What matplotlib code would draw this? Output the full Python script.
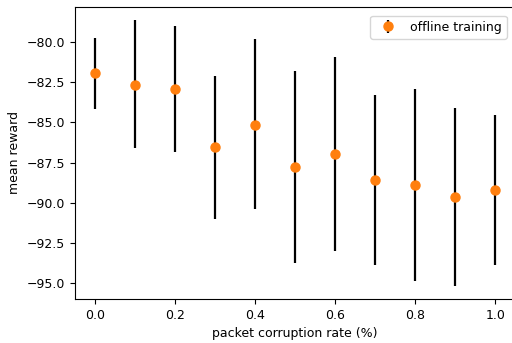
import matplotlib
matplotlib.use("Agg")
import matplotlib.pyplot as plt
import numpy as np

rates = [0.0, 0.1, 0.2, 0.3, 0.4, 0.5, 0.6, 0.7, 0.8, 0.9, 1.0]
mean_reward = [-81.97, -82.66, -82.95, -86.56, -85.15, -87.78, -86.97, -88.57, -88.88, -89.63, -89.19]
err_low = [-84.2, -86.62, -86.87, -91.0, -90.4, -93.75, -92.99, -93.86, -94.84, -95.15, -93.86]
err_high = [-79.8, -78.67, -79.03, -82.1, -79.86, -81.79, -80.98, -83.28, -82.93, -84.11, -84.57]

plt.rcParams['font.size'] = 9
fig = plt.figure(figsize=(5.12, 3.43), dpi=100)
ax = fig.add_axes([74.7/512, 1 - 299/343, (515.5 - 74.7)/512, (299 - 7)/343])

m = np.array(mean_reward)
yerr = [m - np.array(err_low), np.array(err_high) - m]
ax.errorbar(rates, mean_reward, yerr=yerr, fmt='o', color='C1', ecolor='black',
            elinewidth=1.6, markersize=6.5, label='offline training')
ax.set_xlabel('packet corruption rate (%)')
ax.set_ylabel('mean reward')
ax.set_yticks([-95.0, -92.5, -90.0, -87.5, -85.0, -82.5, -80.0])
ax.legend(loc='upper right', borderaxespad=0.7)
fig.savefig('out.png', dpi=100)
